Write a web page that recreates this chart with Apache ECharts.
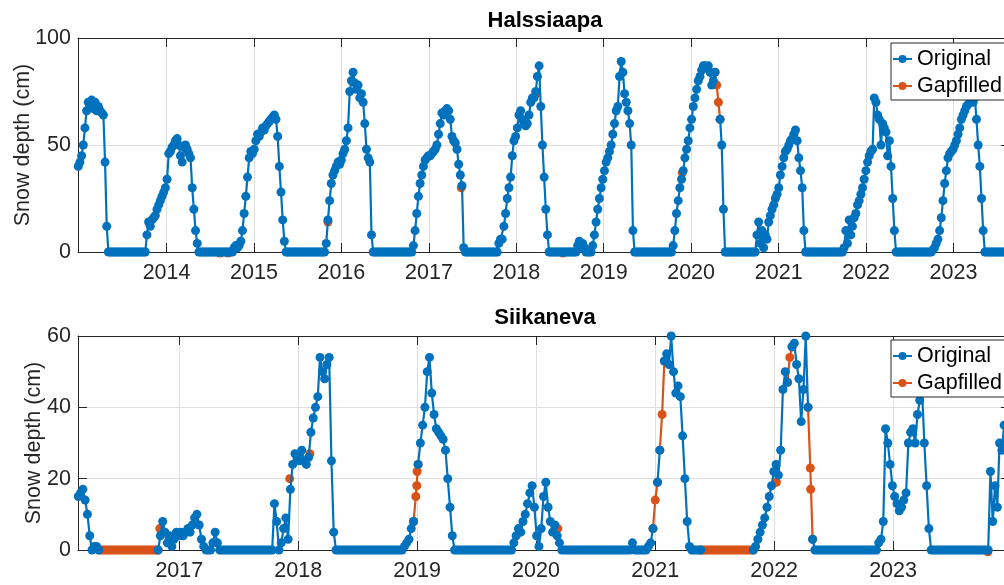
<!DOCTYPE html>
<html>
<head>
<meta charset="utf-8">
<script src="https://cdn.jsdelivr.net/npm/echarts@6/dist/echarts.min.js"></script>
<style>
html,body{margin:0;padding:0;background:#fff;}
#c{width:1004px;height:585px;}
</style>
</head>
<body>
<div id="c"></div>
<script>
// ---------------- DATA ----------------
const STEP_DAYS = 7; // one reading per week

// Halssiaapa: weekly snow depth (cm), first reading 2012-12-28
const halsStart = '2012-12-28';
const halsDepth = [
  // 0-17
  40,42,45,50,58,66,70,68,71,67,70,66,68,66,65,64,42,12,
  // 18-40
  0,0,0,0,0,0,0,0,0,0, 0,0,0,0,0,0,0,0,0,0, 0,0,0,
  // 41-71
  8,14,12,15,16,17,20,22,24,26, 28,30,34,46,47,49,50,52,53,50, 45,42,49,50,48,46,44,30,20,10, 4,
  // 72-92
  0,0,0,0,0,0,0,0,0,0, 0,0,0,0,0,0,0,0,0,0, 0,
  // 93-123
  2,3,2,3,5,10,18,26,35,44, 47,46,48,52,55,54,56,58,57,59, 60,61,62,63,64,62,54,40,28,15, 5,
  // 124-147
  0,0,0,0,0,0,0,0,0,0, 0,0,0,0,0,0,0,0,0,0, 0,0,0,0,
  // 148-175
  4,15,24,32,36,38,40,42,41,43, 46,48,52,58,75,80,84,79,76,78, 72,74,70,60,48,44,42,8,
  // 176-199
  0,0,0,0,0,0,0,0,0,0, 0,0,0,0,0,0,0,0,0,0, 0,0,0,0,
  // 200-230
  3,10,18,26,32,36,40,43,44,45, 45,46,47,48,50,55,60,65,64,66, 67,66,62,54,52,51,48,41,36,31, 2,
  // 231-250
  0,0,0,0,0,0,0,0,0,0, 0,0,0,0,0,0,0,0,0,0,
  // 251-280
  4,6,6,12,18,25,30,35,45,52, 54,58,64,66,62,60,59,60,64,70, 72,72,75,82,87,68,50,35,20,8,
  // 281-297
  0,0,0,0,0,0,0,0,0,0, 0,0,0,0,0,0,0,
  // 298-331
  3,5,2,4,2,0,0,0,0,3, 8,14,20,25,30,34,38,42,44,47, 50,55,60,66,68,82,89,84,74,70, 66,60,50,10,
  // 332-354
  0,0,0,0,0,0,0,0,0,0, 0,0,0,0,0,0,0,0,0,0, 0,0,0,
  // 355-385
  3,10,18,24,30,34,38,44,48,52, 58,62,68,72,76,80,82,85,87,87, 86,87,84,78,80,84,78,70,62,50, 20,
  // 386-404
  0,0,0,0,0,0,0,0,0,0, 0,0,0,0,0,0,0,0,0,
  // 405-433
  8,14,4,10,2,8,6,14,17,20, 22,25,27,30,36,40,44,47,48,50, 52,53,55,57,52,44,38,30,10,
  // 434-456
  0,0,0,0,0,0,0,0,0,0, 0,0,0,0,0,0,0,0,0,0, 0,0,0,
  // 457-487
  2,10,4,15,8,12,16,18,22,24, 27,30,34,38,42,45,47,48,72,70, 64,62,50,60,58,56,45,52,40,25, 10,
  // 488-509
  0,0,0,0,0,0,0,0,0,0, 0,0,0,0,0,0,0,0,0,0, 0,0,
  // 510-540
  1,2,4,6,10,16,24,32,38,44, 46,47,48,50,52,55,58,62,64,66, 68,69,70,71,70,72,62,50,40,25, 10,
  // 541-556
  0,0,0,0,0,0,0,0,0,0, 0,0,0,0,0,0
];
// gap-filled runs where the original is missing: [first week index, number of weeks]
const halsGaps = [[381,2]];
// isolated gap-filled readings: [days after first reading, depth]
const halsSpots = [[592,-0.5],[626,-0.5],[1043,14],[1600,30],[1913,74],[2025,-0.5],[2523,37]];

// Siikaneva: weekly snow depth (cm), first reading 2016-02-26
const siikStart = '2016-02-26';
const siikDepth = [
  // 0-8
  15,16,17,14,10,4,0,1,1,
  // 9-34
  0,0,0,0,0,0,0,0,0,0, 0,0,0,0,0,0,0,0,0,0, 0,0,0,0,0,0,
  // 35-61
  0,4,8,5,2,4,1,3,5,4, 5,4,5,6,5,7,9,10,7,3, 1,0,0,0,2,5,2,
  // 62-85
  0,0,0,0,0,0,0,0,0,0, 0,0,0,0,0,0,0,0,0,0, 0,0,0,0,
  // 86-112
  13,8,0,2,6,9,3,17,24,27, 26,25,28,25,24,26,33,37,40,43, 54,50,48,52,54,25,5,
  // 113-142
  0,0,0,0,0,0,0,0,0,0, 0,0,0,0,0,0,0,0,0,0, 0,0,0,0,0,0,0,0,0,0,
  // 143-164
  1,2,3,6,8,15,24,30,35,40, 50,54,44,38,34,33,32,31,28,20, 12,4,
  // 165-190
  0,0,0,0,0,0,0,0,0,0, 0,0,0,0,0,0,0,0,0,0, 0,0,0,0,0,0,
  // 191-211
  2,4,6,5,8,10,13,16,18,12, 4,1,6,15,19,12,8,5,7,4, 2,
  // 212-249
  0,0,0,0,0,0,0,0,0,0, 0,0,0,0,0,0,0,0,0,0, 0,0,0,0,0,0,0,0,0,0, 0,2,0,0,0,0,0,0,
  // 250-268
  1,2,6,14,19,28,38,53,55,52, 60,50,44,46,43,32,20,8,1,
  // 269-295
  0,0,0,0,0,0,0,0,0,0, 0,0,0,0,0,0,0,0,0,0, 0,0,0,0,0,0,0,
  // 296-323
  0,1,3,5,7,9,12,15,18,22, 24,21,28,45,50,47,54,57,58,52, 48,36,45,60,40,23,3,0,
  // 324-350
  0,0,0,0,0,0,0,0,0,0, 0,0,0,0,0,0,0,0,0,0, 0,0,0,0,0,0,0,
  // 351-373
  2,3,8,34,30,24,18,15,13,11, 12,14,16,30,33,34,30,38,42,45, 30,18,6,
  // 374-399
  0,0,0,0,0,0,0,0,0,0, 0,0,0,0,0,0,0,0,0,0, 0,0,0,0,0,0,
  // 400-408
  22,8,18,12,30,28,35,30,32
];
const siikGaps = [[10,25],[148,1],[253,1],[256,1],[274,22],[312,1],[321,1]];
const siikSpots = [[250,6],[649,20],[711,27],[1039,18],[1040,22],[1472,6],[2143,19],[2248,17],[2792,-0.5]];

const halsYears = [2014,2015,2016,2017,2018,2019,2020,2021,2022,2023];
const siikYears = [2017,2018,2019,2020,2021,2022,2023];
const halsRange = ['2012-12-27','2023-08-25'];
const siikRange = ['2016-02-25','2023-12-26'];
const halsYTicks = {min:0, max:100, interval:50};
const siikYTicks = {min:0, max:60, interval:20};

// ---------------- HELPERS ----------------
const DAY = 86400000;
function utc(s){ const p = s.split('-').map(Number); return Date.UTC(p[0], p[1]-1, p[2]); }
function jan1(y){ return Date.UTC(y,0,1); }

function split(start, vals, gaps, spots){
  const t0 = utc(start);
  const tAt = (i) => t0 + i*STEP_DAYS*DAY;
  const isGap = vals.map(() => false);
  gaps.forEach(([s,n]) => { for (let k=s; k<s+n; k++) isGap[k] = true; });
  const orig = vals.map((v,i) => [tAt(i), isGap[i] ? '-' : v]);
  const fill = [];
  gaps.forEach(([s,n]) => {
    for (let k=Math.max(0,s-1); k<=Math.min(vals.length-1, s+n); k++) fill.push([tAt(k), vals[k]]);
    fill.push(['-','-']);
  });
  spots.forEach(([d,v]) => { fill.push([t0 + d*DAY, v]); fill.push(['-','-']); });
  return {orig, fill};
}

const FONT = '"Liberation Sans", Arial, Helvetica, sans-serif';
const AX = '#262626', GRIDC = '#dfdfdf';
const BLUE = '#0072BD', ORANGE = '#D95319';
const FS = 21.5;

const hals = split(halsStart, halsDepth, halsGaps, halsSpots);
const siik = split(siikStart, siikDepth, siikGaps, siikSpots);

function xAxes(gi, range, years){
  const ticks = years.map(jan1);
  const base = {
    type:'value', gridIndex:gi, min:utc(range[0]), max:utc(range[1]), scale:true,
    axisLine:{show:true, onZero:false, lineStyle:{color:AX, width:1}},
    axisTick:{show:true, inside:true, length:9, customValues:ticks, lineStyle:{color:AX}},
  };
  return [
    Object.assign({}, base, {
      position:'bottom',
      axisLabel:{show:true, customValues:ticks, formatter:(v)=>String(new Date(v).getUTCFullYear()),
                 color:AX, fontSize:FS, fontFamily:FONT, margin:10},
      splitLine:{show:true, lineStyle:{color:GRIDC, width:1}}
    }),
    Object.assign({}, base, {
      position:'top', axisLabel:{show:false}, splitLine:{show:false}
    })
  ];
}
function yAxes(gi, t, name, gap){
  const base = {
    type:'value', gridIndex:gi, min:t.min, max:t.max, interval:t.interval,
    axisLine:{show:true, onZero:false, lineStyle:{color:AX, width:1}},
    axisTick:{show:true, inside:true, length:9, lineStyle:{color:AX}},
  };
  return [
    Object.assign({}, base, {
      position:'left', name:name, nameLocation:'middle', nameGap:gap, nameMoveOverlap:false,
      nameTextStyle:{fontSize:FS, color:AX, fontFamily:FONT},
      axisLabel:{color:AX, fontSize:FS, fontFamily:FONT, margin:7},
      splitLine:{show:true, lineStyle:{color:GRIDC, width:1}}
    }),
    Object.assign({}, base, {position:'right', axisLabel:{show:false}, splitLine:{show:false}})
  ];
}
function lineSeries(name, color, data, xi, yi, z){
  return {
    name, type:'line', xAxisIndex:xi, yAxisIndex:yi, data, z,
    symbol:'circle', symbolSize:9, showSymbol:true, connectNulls:false,
    lineStyle:{color, width:2.2}, itemStyle:{color},
    emphasis:{disabled:true}, animation:false, clip:false
  };
}
function legendAt(top){
  return {
    data:['Original','Gapfilled'], orient:'vertical', left:891, top:top,
    backgroundColor:'#fff', borderColor:AX, borderWidth:1,
    padding:[5,8,3,1], itemGap:5, itemWidth:19, itemHeight:10,
    textStyle:{fontSize:FS, color:'#000', fontFamily:FONT},
    selectedMode:false
  };
}

const option = {
  animation:false,
  backgroundColor:'#fff',
  grid:[
    {left:78, top:38, width:932, height:214, containLabel:false, outerBoundsMode:'none'},
    {left:78, top:336, width:932, height:214, containLabel:false, outerBoundsMode:'none'}
  ],
  xAxis: xAxes(0, halsRange, halsYears).concat(xAxes(1, siikRange, siikYears)),
  yAxis: yAxes(0, halsYTicks, 'Snow depth (cm)', 44).concat(yAxes(1, siikYTicks, 'Snow depth (cm)', 33)),
  legend:[legendAt(43), legendAt(340)],
  graphic:[
    {type:'text', x:545, y:20.5, z:10, style:{text:'Halssiaapa', font:'bold 22px '+FONT, fill:'#000', align:'center', verticalAlign:'middle', textAlign:'center', textVerticalAlign:'middle'}},
    {type:'text', x:545, y:318, z:10, style:{text:'Siikaneva', font:'bold 22px '+FONT, fill:'#000', align:'center', verticalAlign:'middle', textAlign:'center', textVerticalAlign:'middle'}}
  ],
  series:[
    lineSeries('Gapfilled', ORANGE, hals.fill, 0, 0, 2),
    lineSeries('Original', BLUE, hals.orig, 0, 0, 3),
    lineSeries('Gapfilled', ORANGE, siik.fill, 2, 2, 2),
    lineSeries('Original', BLUE, siik.orig, 2, 2, 3)
  ]
};

const chart = echarts.init(document.getElementById('c'), null, {renderer:'canvas'});
chart.setOption(option);
</script>
</body>
</html>
